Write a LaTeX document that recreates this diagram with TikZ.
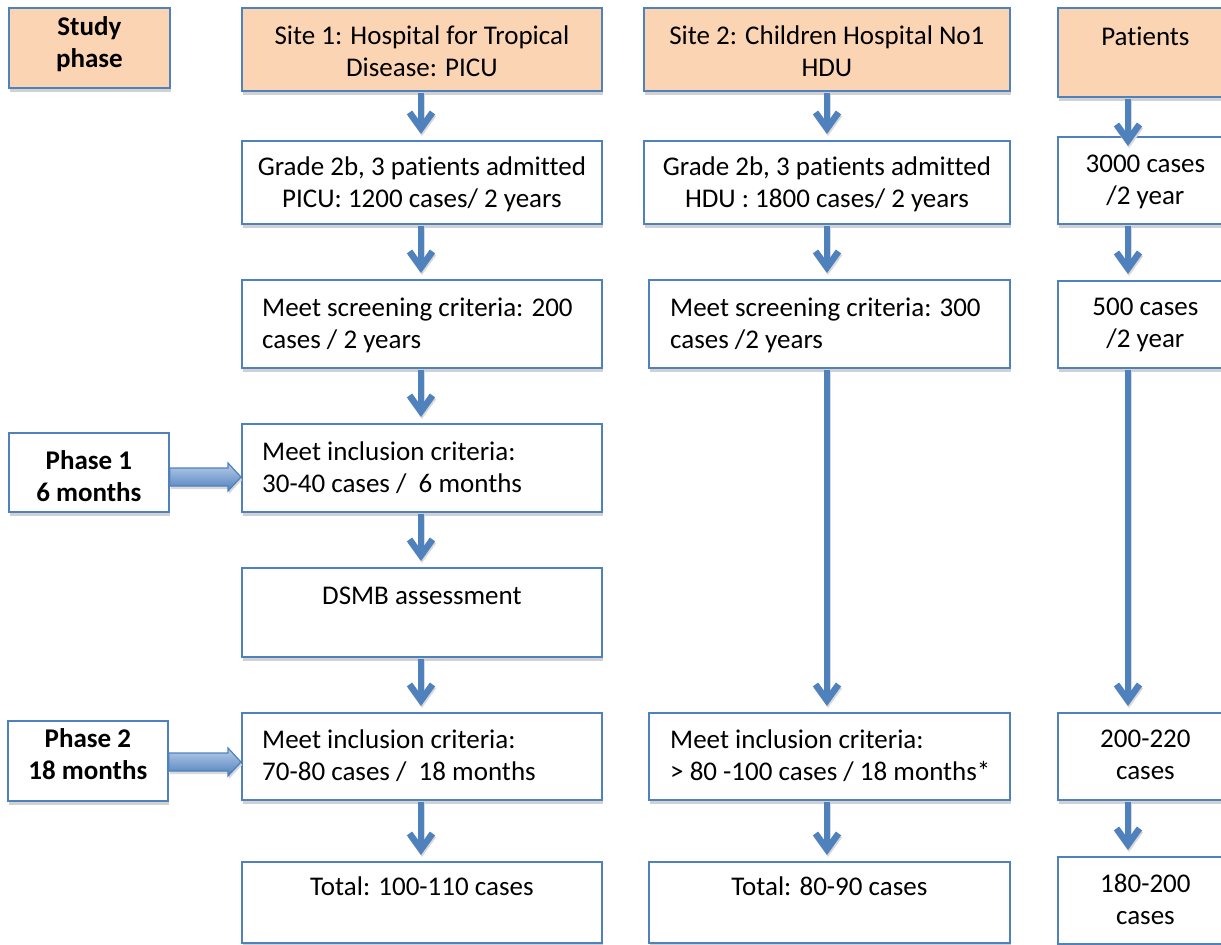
\documentclass[tikz,border=0pt]{standalone}
\usepackage{fontspec}
\setmainfont[RawFeature={-liga;-clig;-calt;-dlig}]{Carlito}
\usetikzlibrary{arrows.meta,shadows,calc}
\definecolor{bblue}{HTML}{4F81BD}
\definecolor{peach}{HTML}{FBD4B4}
\definecolor{lblue}{RGB}{185,205,232}
\begin{document}
\begin{tikzpicture}[x=1pt,y=-1pt,
  box/.style={draw=bblue, line width=1.8pt, fill=white, rectangle, inner sep=0pt, anchor=north west,
    drop shadow={shadow xshift=0.8pt, shadow yshift=-4pt, fill=black!18, opacity=1}},
  hdr/.style={box, fill=peach},
  tc/.style={anchor=north, align=center, inner sep=0pt, font=\fontsize{27}{32}\selectfont},
  tl/.style={anchor=north west, align=left, inner sep=0pt, font=\fontsize{27}{32}\selectfont},
  tb/.style={tc, font=\fontsize{27}{32}\selectfont\bfseries},
  tip/.style={-{Straight Barb[length=16pt,width=23pt]}},
  varr/.style={draw=bblue, line width=6.5pt, tip, line join=miter,
    shorten <=1pt, shorten >=6pt,
    preaction={draw=black!15, line width=6.5pt, tip, transform canvas={xshift=1pt,yshift=-2pt}}},
  barr/.style={draw=bblue, line width=1.2pt, top color=lblue, bottom color=bblue, line join=miter},
]
\useasboundingbox (0,0) rectangle (1221,945);

% column coordinates
\coordinate (c1) at (421,0);
\coordinate (c2) at (827,0);
\coordinate (c3) at (1128,0);

% headers
\node[hdr, minimum width=161pt, minimum height=80pt] (sp) at (8,7) {};
\node[hdr, minimum width=360pt, minimum height=83pt] (s1h) at (241,7) {};
\node[hdr, minimum width=366pt, minimum height=83pt] (s2h) at (643,7) {};
\node[hdr, minimum width=175pt, minimum height=89pt] (ph) at (1057,7) {};

% row 2
\node[box, minimum width=360pt, minimum height=83pt] (s1r2) at (241,140) {};
\node[box, minimum width=366pt, minimum height=83pt] (s2r2) at (643,140) {};
\node[box, minimum width=175pt, minimum height=87pt] (pr2) at (1057,136) {};

% row 3
\node[box, minimum width=360pt, minimum height=88pt] (s1r3) at (241,279) {};
\node[box, minimum width=361pt, minimum height=88pt] (s2r3) at (648,279) {};
\node[box, minimum width=175pt, minimum height=87pt] (pr3) at (1057,280) {};

% phase 1
\node[box, minimum width=160pt, minimum height=79pt] (ph1) at (8,432) {};
\node[box, minimum width=360pt, minimum height=88pt] (s1i1) at (241,423) {};
\node[box, minimum width=360pt, minimum height=89pt] (dsmb) at (241,567) {};

% phase 2
\node[box, minimum width=160pt, minimum height=80pt] (ph2) at (7,720) {};
\node[box, minimum width=360pt, minimum height=87pt] (s1i2) at (241,712) {};
\node[box, minimum width=361pt, minimum height=87pt] (s2i) at (648,712) {};
\node[box, minimum width=175pt, minimum height=87pt] (pi) at (1057,712) {};

% totals
\node[box, minimum width=360pt, minimum height=81pt] (s1t) at (241,861) {};
\node[box, minimum width=361pt, minimum height=81pt] (s2t) at (648,861) {};
\node[box, minimum width=175pt, minimum height=87pt] (pt) at (1057,856) {};

% texts
\node[tb] (tsp) at ($(sp.north)+(0,9)$) {Study\\phase};
\node[tc] (ts1h) at ($(s1h.north)+(0,19)$) {Site 1: Hospital for Tropical\\Disease: PICU};
\node[tc] (ts2h) at ($(s2h.north)+(0,19)$) {Site 2: Children Hospital No1\\HDU};
\node[tc] (tph) at ($(ph.north)+(0,20)$) {Patients};

\node[tc] (ts1r2) at ($(s1r2.north)+(0,17)$) {Grade 2b, 3 patients admitted\\PICU: 1200 cases/ 2 years};
\node[tc] (ts2r2) at ($(s2r2.north)+(0,17)$) {Grade 2b, 3 patients admitted\\HDU : 1800 cases/ 2 years};
\node[tc] (tpr2) at ($(pr2.north)+(0,19)$) {3000 cases\\/2 year};

\node[tl] (ts1r3) at ($(s1r3.north west)+(21,19)$) {Meet screening criteria: 200\\cases / 2 years};
\node[tl] (ts2r3) at ($(s2r3.north west)+(22,19)$) {Meet screening criteria: 300\\cases /2 years};
\node[tc] (tpr3) at ($(pr3.north)+(0,18)$) {500 cases\\/2 year};

\node[tb] (tph1) at ($(ph1.north)+(0,18)$) {Phase 1\\6 months};
\node[tl] (ts1i1) at ($(s1i1.north west)+(21,19)$) {Meet inclusion criteria:\\30-40 cases /\ \ 6 months};
\node[tc] (tdsmb) at ($(dsmb.north)+(0,20)$) {DSMB assessment};

\node[tb] (tph2) at ($(ph2.north)+(0,8)$) {Phase 2\\18 months};
\node[tl] (ts1i2) at ($(s1i2.north west)+(21,18)$) {Meet inclusion criteria:\\70-80 cases /\ \ 18 months};
\node[tl] (ts2i) at ($(s2i.north west)+(22,18)$) {Meet inclusion criteria:\\> 80 -100 cases / 18 months*};
\node[tc] (tpi) at ($(pi.north)+(0,18)$) {200-220\\cases};

\node[tc] (ts1t) at ($(s1t.north)+(0,16)$) {Total: 100-110 cases};
\node[tc] (ts2t) at ($(s2t.north)+(0,16)$) {Total: 80-90 cases};
\node[tc] (tpt) at ($(pt.north)+(0,18)$) {180-200\\cases};

% vertical arrows, site 1
\draw[varr] (s1h.south -| c1) -- (s1r2.north -| c1);
\draw[varr] (s1r2.south -| c1) -- (s1r3.north -| c1);
\draw[varr] (s1r3.south -| c1) -- (s1i1.north -| c1);
\draw[varr] (s1i1.south -| c1) -- (dsmb.north -| c1);
\draw[varr] (dsmb.south -| c1) -- (s1i2.north -| c1);
\draw[varr] (s1i2.south -| c1) -- (s1t.north -| c1);

% site 2
\draw[varr] (s2h.south -| c2) -- (s2r2.north -| c2);
\draw[varr] (s2r2.south -| c2) -- (s2r3.north -| c2);
\draw[varr] (s2r3.south -| c2) -- (s2i.north -| c2);
\draw[varr] (s2i.south -| c2) -- (s2t.north -| c2);

% patients
\draw[varr, shorten >=-10pt] (ph.south -| c3) -- (pr2.north -| c3);
\draw[varr] (pr2.south -| c3) -- (pr3.north -| c3);
\draw[varr] (pr3.south -| c3) -- (pi.north -| c3);
\draw[varr] (pi.south -| c3) -- (pt.north -| c3);

% block arrows
\coordinate (a1s) at (ph1.east |- 0,477);
\coordinate (a1e) at (s1i1.west |- 0,477);
\coordinate (a2s) at (ph2.east |- 0,762);
\coordinate (a2e) at (s1i2.west |- 0,762);
\foreach \s/\e in {a1s/a1e, a2s/a2e}{
  \fill[black!15] ($(\s)+(1,-6)$) -- ($(\e)+(-12,-6)$) -- ($(\e)+(-12,-11)$) -- ($(\e)+(1,3)$) -- ($(\e)+(-12,17)$) -- ($(\e)+(-12,12)$) -- ($(\s)+(1,12)$) -- cycle;
  \draw[barr] ($(\s)+(0,-9)$) -- ($(\e)+(-13,-9)$) -- ($(\e)+(-13,-14)$) -- (\e) -- ($(\e)+(-13,14)$) -- ($(\e)+(-13,9)$) -- ($(\s)+(0,9)$) -- cycle;
}
\end{tikzpicture}
\end{document}
